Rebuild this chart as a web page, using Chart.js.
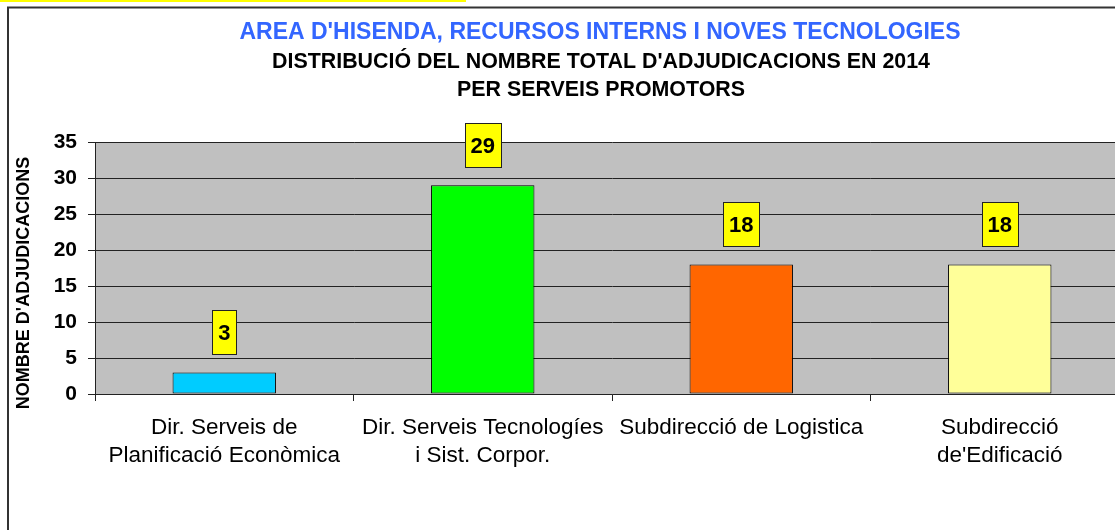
<!DOCTYPE html>
<html>
<head>
<meta charset="utf-8">
<title>Adjudicacions 2014</title>
<script src="https://cdn.jsdelivr.net/npm/chart.js"></script>
<style>
  html, body { margin: 0; padding: 0; background: #fff; overflow: hidden; }
  #wrap { width: 1200px; height: 530px; }
</style>
</head>
<body>
<div id="wrap"><canvas id="chart" width="1200" height="530"></canvas></div>
<script>
// chart data
const categories = [
    ['Dir. Serveis de', 'Planificació Econòmica'],
    ['Dir. Serveis Tecnologíes', 'i Sist. Corpor.'],
    'Subdirecció de Logistica',
    ['Subdirecció', "de'Edificació"]
];
const values = [3, 29, 18, 18];
const barColors = ['#00CCFF', '#00FF00', '#FF6600', '#FFFF99'];
const yMin = 0;
const yMax = 35;
const yStep = 5;

const titleText = "AREA D'HISENDA, RECURSOS INTERNS I NOVES TECNOLOGIES";
const subtitleText = ["DISTRIBUCIÓ DEL NOMBRE TOTAL D'ADJUDICACIONS EN 2014", 'PER SERVEIS PROMOTORS'];
const yTitleText = "NOMBRE D'ADJUDICACIONS";

const FONT = 'Arial, "Liberation Sans", sans-serif';

// background, outer frame and grey plot area
const framePlugin = {
    id: 'frame',
    beforeDraw(chart) {
        const ctx = chart.ctx;
        const area = chart.chartArea;
        ctx.save();
        ctx.fillStyle = '#fff';
        ctx.fillRect(0, 0, chart.width, chart.height);
        ctx.fillStyle = '#FFFF00';
        ctx.fillRect(0, 0, 466, 2);
        ctx.strokeStyle = '#333';
        ctx.lineWidth = 2;
        ctx.strokeRect(8, 7.5, chart.width + 20, chart.height + 20);
        ctx.fillStyle = '#C0C0C0';
        ctx.fillRect(area.left, area.top, area.right - area.left, area.bottom - area.top);
        ctx.restore();
    },
    afterDraw(chart) {
        const ctx = chart.ctx;
        ctx.save();
        ctx.textAlign = 'center';
        ctx.textBaseline = 'middle';

        // titles (centered on the original chart box, not on the canvas)
        ctx.font = 'bold 23px ' + FONT;
        ctx.fillStyle = '#3366FF';
        ctx.fillText(titleText, 600, 33);
        ctx.font = 'bold 21.4px ' + FONT;
        ctx.fillStyle = '#000';
        subtitleText.forEach((line, i) => {
            ctx.fillText(line, 601, 62 + i * 28);
        });

        // rotated y axis title
        ctx.translate(24, 283);
        ctx.rotate(-Math.PI / 2);
        ctx.font = 'bold 18px ' + FONT;
        ctx.fillText(yTitleText, 0, 0);
        ctx.restore();
    }
};

// yellow value boxes above the bars
const valueBoxPlugin = {
    id: 'valueBox',
    afterDatasetsDraw(chart) {
        const ctx = chart.ctx;
        const meta = chart.getDatasetMeta(0);
        ctx.save();
        ctx.font = 'bold 22px ' + FONT;
        ctx.textAlign = 'center';
        ctx.textBaseline = 'middle';
        meta.data.forEach((bar, i) => {
            const txt = String(values[i]);
            const w = Math.round(ctx.measureText(txt).width + 12);
            const h = 44;
            const x = Math.round(bar.x - w / 2) + 0.5;
            const y = Math.round(bar.y - 18 - h) + 0.5;
            ctx.fillStyle = '#FFFF00';
            ctx.fillRect(x, y, w, h);
            ctx.strokeStyle = '#222';
            ctx.lineWidth = 1;
            ctx.strokeRect(x, y, w, h);
            ctx.fillStyle = '#000';
            ctx.fillText(txt, bar.x, y + h / 2 + 1);
        });
        ctx.restore();
    }
};

new Chart(document.getElementById('chart'), {
    type: 'bar',
    data: {
        labels: categories,
        datasets: [{
            data: values,
            backgroundColor: barColors,
            borderColor: '#000',
            borderWidth: 1,
            borderSkipped: false,
            barPercentage: 0.4,
            categoryPercentage: 1.0
        }]
    },
    options: {
        responsive: false,
        devicePixelRatio: 1,
        animation: false,
        layout: { padding: { left: 0, right: 71, top: 142, bottom: 0 } },
        plugins: {
            legend: { display: false },
            tooltip: { enabled: false },
            title: { display: false }
        },
        scales: {
            x: {
                grid: {
                    offset: true,
                    drawOnChartArea: false,
                    drawTicks: true,
                    tickLength: 7,
                    color: '#222'
                },
                border: { display: true, color: '#222', width: 1 },
                ticks: {
                    color: '#000',
                    font: { family: FONT, size: 22.5, lineHeight: 28 / 22.5 },
                    padding: 13,
                    maxRotation: 0,
                    autoSkip: false
                },
                afterFit(scale) { scale.height = 136; }
            },
            y: {
                min: yMin,
                max: yMax,
                grid: {
                    color: '#222',
                    tickLength: 7,
                    lineWidth: 1
                },
                border: { display: true, color: '#222', width: 1 },
                ticks: {
                    stepSize: yStep,
                    color: '#000',
                    font: { family: FONT, size: 21, weight: 'bold' },
                    padding: 11
                },
                afterFit(scale) { scale.width = 95; }
            }
        }
    },
    plugins: [framePlugin, valueBoxPlugin]
});
</script>
</body>
</html>
